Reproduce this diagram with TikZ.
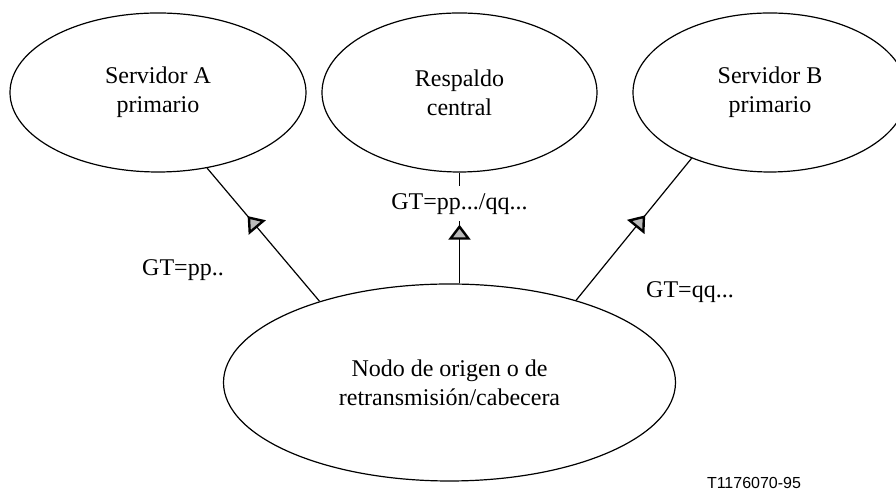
\documentclass[tikz,border=0pt]{standalone}
\usepackage{fontspec}
\setmainfont{Liberation Serif}
\setsansfont{Liberation Sans}
\usetikzlibrary{shapes.geometric, arrows.meta, decorations.markings}
\tikzstyle{server} = [ellipse, draw=black, line width=0.6pt, minimum width=148pt, minimum height=79.5pt, align=center, font=\fontsize{12}{14.5}\selectfont]
\tikzstyle{origin} = [server, minimum width=226pt, minimum height=98.5pt]
\tikzstyle{link} = [line width=0.6pt]
\tikzstyle{tag} = [font=\fontsize{12}{14.5}\selectfont]
\tikzset{midarrow/.style={postaction={decorate, decoration={markings, mark=at position #1 with {\arrow{Triangle[length=7.5pt, width=11pt, fill=gray!55, line width=1.2pt]}}}}}}

\begin{document}
\begin{tikzpicture}[x=0.5pt, y=-0.5pt, node distance=150.75pt]
\useasboundingbox (0,0) rectangle (896,490);
\node (resp) [server, minimum width=137.5pt] at (459.5,92.5) {Respaldo\\central};
\node (srvA) [server, left of=resp] {Servidor A\\primario};
\node (srvB) [server, minimum width=137pt, right of=resp, xshift=4.5pt] {Servidor B\\primario};
\node (orig) [origin, below of=resp, node distance=145pt, xshift=-5pt] {Nodo de origen o de\\retransmisión/cabecera};
\draw [link, midarrow=0.64] (orig.148) -- (srvA.303);
\draw [link, midarrow=0.53] (orig.north -| resp.south) -- node[tag, fill=white, pos=0.72] (gtAB) {GT=pp.../qq...} (resp.south);
\draw [link, midarrow=0.6] (orig.33) -- (srvB.220);
\node (gtA) [tag] at (183,270) {GT=pp..};
\node (gtB) [tag] at (690,292) {GT=qq...};
\node (code) [font=\sffamily\fontsize{8}{9.6}\selectfont] at (754,483) {T1176070-95};

\end{tikzpicture}
\end{document}
